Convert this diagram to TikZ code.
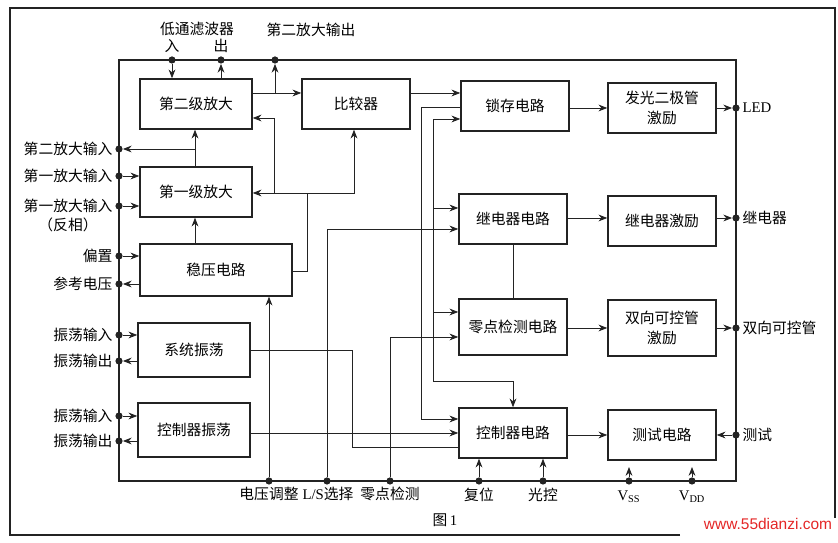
\documentclass[tikz,border=0pt]{standalone}
\usepackage{fontspec}
\setmainfont{Liberation Serif}
\newfontfamily\cjk{Noto Sans CJK SC}
\newfontfamily\markfont{Liberation Sans}
\usetikzlibrary{arrows.meta}
\definecolor{InkBlack}{RGB}{35,35,35}
\definecolor{MarkRed}{RGB}{228,38,38}
\tikzset{
  block/.style={draw=InkBlack,line width=1pt,minimum width=27mm,minimum height=12.5mm,
    align=center,inner sep=1pt,font=\cjk\fontsize{10.5}{14}\selectfont},
  wide/.style={minimum width=28mm},
  wire/.style={draw=InkBlack,line width=0.6pt},
  arrow/.style={wire,-{Stealth[length=2.2mm,width=1.7mm]}},
  pindot/.style={circle,fill=InkBlack,inner sep=0pt,minimum size=1.8mm},
  lbl/.style={inner sep=1pt,font=\cjk\fontsize{10.5}{13}\selectfont}
}
\begin{document}
\begin{tikzpicture}[x=0.25mm,y=-0.25mm]
  \useasboundingbox (0,0) rectangle (838,543);
  \draw[InkBlack,line width=1.3pt] (680,535) -- (10,535) -- (10,8) -- (835,8) -- (835,518);
  \coordinate (chipNW) at (119,60);
  \coordinate (chipSE) at (736,481);
  \draw[wire,line width=0.8pt] (chipNW) rectangle (chipSE);

  \node[block,wide] (amp2) at (196,104) {第二级放大};
  \node[block] (cmp) at (356,104) {比较器};
  \node[block,wide] (amp1) at (196,192) {第一级放大};
  \node[block,minimum width=38mm,minimum height=13mm] (reg) at (216,270) {稳压电路};
  \node[block,wide,minimum height=13.5mm] (sysosc) at (194,350) {系统振荡};
  \node[block,wide,minimum height=13.5mm] (ctrlosc) at (194,430) {控制器振荡};
  \node[block] (latch) at (515,106) {锁存电路};
  \node[block] (ledd) at (662,108) {发光二极管\\激励};
  \node[block] (relay) at (513,219) {继电器电路};
  \node[block] (relayd) at (662,221) {继电器激励};
  \node[block,minimum height=14mm] (zero) at (513,327) {零点检测电路};
  \node[block,minimum height=14mm] (triacd) at (662,328) {双向可控管\\激励};
  \node[block] (ctrl) at (513,433) {控制器电路};
  \node[block] (test) at (662,435) {测试电路};

  \node[pindot] (pLpfIn) at (172,60) {};
  \node[pindot] (pLpfOut) at (221,60) {};
  \node[pindot] (pAmpOut) at (275,60) {};
  \draw[arrow] (pLpfIn) -- (pLpfIn |- amp2.north);
  \draw[arrow] (pLpfOut |- amp2.north) -- (pLpfOut);
  \draw[arrow] (amp2.east |- 0,93) -- (cmp.west |- 0,93);
  \draw[arrow] (pAmpOut |- 0,93) -- (pAmpOut);
  \draw[arrow] (cmp.east |- 0,93) -- (latch.west |- 0,93);

  \node[pindot] (pLed) at (736,108) {};
  \node[pindot] (pRelay) at (736,218) {};
  \node[pindot] (pTriac) at (736,328) {};
  \node[pindot] (pTest) at (736,435) {};
  \draw[arrow] (latch.east |- pLed) -- (ledd.west |- pLed);
  \draw[arrow] (ledd.east |- pLed) -- (pLed);
  \draw[arrow] (relay.east |- pRelay) -- (relayd.west |- pRelay);
  \draw[arrow] (relayd.east |- pRelay) -- (pRelay);
  \draw[arrow] (zero.east |- pTriac) -- (triacd.west |- pTriac);
  \draw[arrow] (triacd.east |- pTriac) -- (pTriac);
  \draw[arrow] (ctrl.east |- pTest) -- (test.west |- pTest);
  \draw[arrow] (pTest) -- (test.east |- pTest);

  \node[pindot] (pAmp2In) at (119,149) {};
  \node[pindot] (pIn1) at (119,176) {};
  \node[pindot] (pIn1n) at (119,206) {};
  \node[pindot] (pBias) at (119,256) {};
  \node[pindot] (pRef) at (119,284) {};
  \coordinate (jAmp) at (195,149);
  \draw[arrow] (jAmp |- amp1.north) -- (jAmp |- amp2.south);
  \draw[arrow] (jAmp) -- (pAmp2In);
  \draw[arrow] (pIn1) -- (amp1.west |- pIn1);
  \draw[arrow] (pIn1n) -- (amp1.west |- pIn1n);
  \draw[arrow] (jAmp |- reg.north) -- (jAmp |- amp1.south);
  \draw[arrow] (pBias) -- (reg.west |- pBias);
  \draw[arrow] (reg.west |- pRef) -- (pRef);

  \coordinate (jReg) at (307,193);
  \coordinate (jFb) at (274,193);
  \draw[wire] (reg.east |- 0,271) -| (jReg);
  \draw[arrow] (jReg) -- (amp1.east |- jReg);
  \draw[arrow] (jReg) -| (cmp.south -| 354,0);
  \draw[arrow] (jFb) |- (amp2.east |- 0,118);

  \node[pindot] (pOsc1In) at (119,335) {};
  \node[pindot] (pOsc1Out) at (119,361) {};
  \node[pindot] (pOsc2In) at (119,416) {};
  \node[pindot] (pOsc2Out) at (119,441) {};
  \draw[arrow] (pOsc1In) -- (sysosc.west |- pOsc1In);
  \draw[arrow] (sysosc.west |- pOsc1Out) -- (pOsc1Out);
  \draw[arrow] (pOsc2In) -- (ctrlosc.west |- pOsc2In);
  \draw[arrow] (ctrlosc.west |- pOsc2Out) -- (pOsc2Out);
  \draw[wire] (sysosc.east |- 0,350) -- (352,350) |- (ctrl.west |- 0,447);
  \draw[arrow] (ctrlosc.east |- 0,433) -- (ctrl.west |- 0,433);

  \node[pindot] (pVadj) at (269,481) {};
  \node[pindot] (pLs) at (327,481) {};
  \node[pindot] (pZero) at (390,481) {};
  \node[pindot] (pReset) at (479,481) {};
  \node[pindot] (pLight) at (543,481) {};
  \node[pindot] (pVss) at (629,481) {};
  \node[pindot] (pVdd) at (692,481) {};
  \draw[arrow] (pVadj) -- (pVadj |- reg.south);
  \draw[arrow] (pLs) |- (relay.west |- 0,229);
  \draw[arrow] (pZero) |- (zero.west |- 0,337);
  \draw[arrow] (pReset) -- (pReset |- ctrl.south);
  \draw[arrow] (pLight) -- (pLight |- ctrl.south);
  \draw[arrow] (pVss) -- ++(0,-14);
  \draw[arrow] (pVdd) -- ++(0,-14);

  \coordinate (jBus) at (433,381);
  \draw[arrow] (jBus) |- (latch.west |- 0,119);
  \draw[arrow] (433,208) -- (relay.west |- 0,208);
  \draw[arrow] (433,312) -- (zero.west |- 0,312);
  \draw[arrow] (jBus) -| (ctrl.north);
  \draw[arrow] (latch.west |- 0,107) -| (421,419) -- (ctrl.west |- 0,419);
  \draw[wire] (relay.south) -- (zero.north);

  \node[lbl] (tLpf) at (197,29) {低通滤波器};
  \node[lbl] (tLpfIn) at (172,46) {入};
  \node[lbl] (tLpfOut) at (221,46) {出};
  \node[lbl] (tAmpOut) at (311,30) {第二放大输出};
  \node[lbl,anchor=east] (tAmp2In) at (114,149) {第二放大输入};
  \node[lbl,anchor=east] (tIn1) at (114,176) {第一放大输入};
  \node[lbl,anchor=east] (tIn1n) at (114,206) {第一放大输入};
  \node[lbl] (tInv) at (68,225) {（反相）};
  \node[lbl,anchor=east] (tBias) at (114,256) {偏置};
  \node[lbl,anchor=east] (tRef) at (114,284) {参考电压};
  \node[lbl,anchor=east] (tOsc1In) at (114,335) {振荡输入};
  \node[lbl,anchor=east] (tOsc1Out) at (114,361) {振荡输出};
  \node[lbl,anchor=east] (tOsc2In) at (114,416) {振荡输入};
  \node[lbl,anchor=east] (tOsc2Out) at (114,441) {振荡输出};
  \node[lbl,anchor=west] (tLed) at (741,108) {\rmfamily LED};
  \node[lbl,anchor=west] (tRelay) at (741,218) {继电器};
  \node[lbl,anchor=west] (tTriac) at (741,328) {双向可控管};
  \node[lbl,anchor=west] (tTest) at (741,435) {测试};
  \node[lbl] (tVadj) at (269,494) {电压调整};
  \node[lbl] (tLs) at (328,494) {{\rmfamily L/S}选择};
  \node[lbl] (tZero) at (390,494) {零点检测};
  \node[lbl] (tReset) at (479,495) {复位};
  \node[lbl] (tLight) at (543,495) {光控};
  \node[lbl] (tVss) at (629,497) {\rmfamily V\textsubscript{SS}};
  \node[lbl] (tVdd) at (692,497) {\rmfamily V\textsubscript{DD}};
  \node[lbl] (tFig) at (445,520) {图\,{\rmfamily 1}};
  \node[text=MarkRed,font=\markfont\fontsize{11}{13}\selectfont] (tMark) at (768,524) {www.55dianzi.com};
\end{tikzpicture}
\end{document}
